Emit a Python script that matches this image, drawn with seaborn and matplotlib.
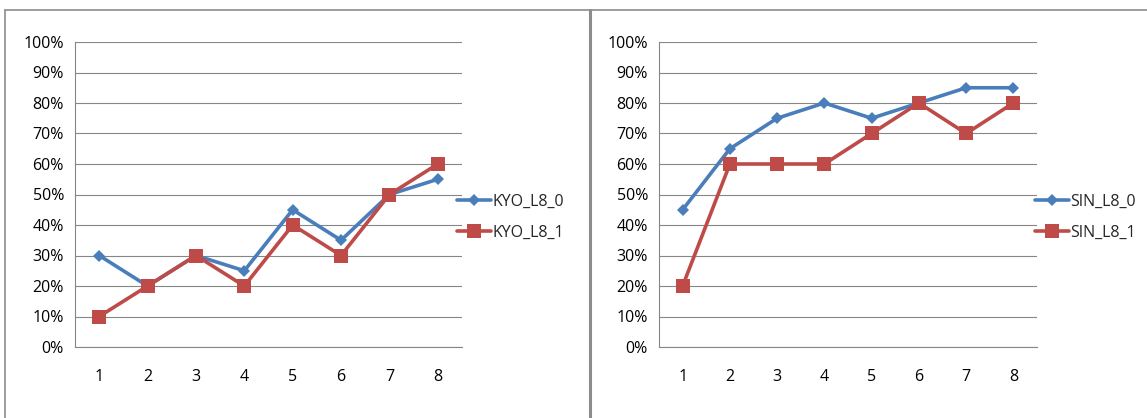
import numpy as np
import pandas as pd
import matplotlib
matplotlib.use("Agg")
import matplotlib.pyplot as plt
import seaborn as sns
from matplotlib.lines import Line2D
from matplotlib.ticker import FixedLocator, PercentFormatter

# data (percent)
categories = ["1", "2", "3", "4", "5", "6", "7", "8"]
kyo_l8_0 = [30, 20, 30, 25, 45, 35, 50, 55]
kyo_l8_1 = [10, 20, 30, 20, 40, 30, 50, 60]
sin_l8_0 = [45, 65, 75, 80, 75, 80, 85, 85]
sin_l8_1 = [20, 60, 60, 60, 70, 80, 70, 80]
yticks = [0, 10, 20, 30, 40, 50, 60, 70, 80, 90, 100]

BLUE = "#4A7EBB"
RED = "#BE4B48"
GRID = "#868686"

sns.set_style("white")
plt.rcParams["font.family"] = ["Open Sans", "DejaVu Sans"]

W, H = 1147, 418
fig = plt.figure(figsize=(W / 100, H / 100), dpi=100)


def px_axes(x0, y0, x1, y1):
    # axes from pixel box (top-left origin)
    return fig.add_axes([x0 / W, 1 - y1 / H, (x1 - x0) / W, (y1 - y0) / H])


def draw_panel(ax, name0, vals0, name1, vals1, leg_x):
    df = pd.DataFrame({
        "x": list(range(len(categories))) * 2,
        "val": vals0 + vals1,
        "series": [name0] * len(vals0) + [name1] * len(vals1),
    })
    sns.lineplot(data=df, x="x", y="val", hue="series", style="series",
                 palette={name0: BLUE, name1: RED},
                 markers={name0: "D", name1: "s"},
                 dashes=False, linewidth=2.6, markersize=7,
                 markeredgewidth=0, legend=False, ax=ax)
    # marker sizes differ per series
    ax.lines[0].set_markersize(6.5)
    ax.lines[1].set_markersize(9.5)

    ax.set_xlim(-0.5, len(categories) - 0.5)
    ax.set_ylim(0, 100)
    ax.set_yticks(yticks)
    ax.yaxis.set_major_formatter(PercentFormatter(decimals=0))
    ax.set_xticks(range(len(categories)))
    ax.set_xticklabels(categories)
    ax.xaxis.set_minor_locator(FixedLocator(np.arange(-0.5, len(categories), 1.0)))
    ax.tick_params(axis="x", which="major", length=0, pad=16, labelsize=11.5, colors="black")
    ax.tick_params(axis="x", which="minor", length=5, width=0.8, color=GRID, direction="out")
    ax.tick_params(axis="y", length=5, width=0.8, color=GRID, direction="out",
                   pad=3, labelsize=11.5, labelcolor="black")
    ax.set_xlabel("")
    ax.set_ylabel("")
    ax.grid(axis="y", color=GRID, linewidth=0.8)
    ax.set_axisbelow(True)
    for s in ["top", "right"]:
        ax.spines[s].set_visible(False)
    for s in ["left", "bottom"]:
        ax.spines[s].set_color(GRID)
        ax.spines[s].set_linewidth(0.8)

    handles = [
        Line2D([], [], color=BLUE, lw=2.6, marker="D", markersize=6.5, markeredgewidth=0),
        Line2D([], [], color=RED, lw=2.6, marker="s", markersize=9.5, markeredgewidth=0),
    ]
    ax.legend(handles, [name0, name1], loc="center left", bbox_to_anchor=(leg_x, 0.425),
              frameon=False, fontsize=11.5, handlelength=2.1, handletextpad=0.12,
              labelspacing=0.95, borderaxespad=0, borderpad=0)


ax1 = px_axes(75, 42, 462, 347)
draw_panel(ax1, "KYO_L8_0", kyo_l8_0, "KYO_L8_1", kyo_l8_1, 0.987)

ax2 = px_axes(659, 42, 1037, 347)
draw_panel(ax2, "SIN_L8_0", sin_l8_0, "SIN_L8_1", sin_l8_1, 0.995)

# chart frames
fc = "#8C8C8C"
fig.add_artist(Line2D([5 / W, 1], [1 - 10 / H] * 2, color=fc, lw=1.2, transform=fig.transFigure))
fig.add_artist(Line2D([5 / W] * 2, [0, 1 - 10 / H], color=fc, lw=1.2, transform=fig.transFigure))
fig.add_artist(Line2D([590 / W] * 2, [0, 1 - 10 / H], color=fc, lw=2.2, transform=fig.transFigure))

fig.savefig("out.png", dpi=100)
